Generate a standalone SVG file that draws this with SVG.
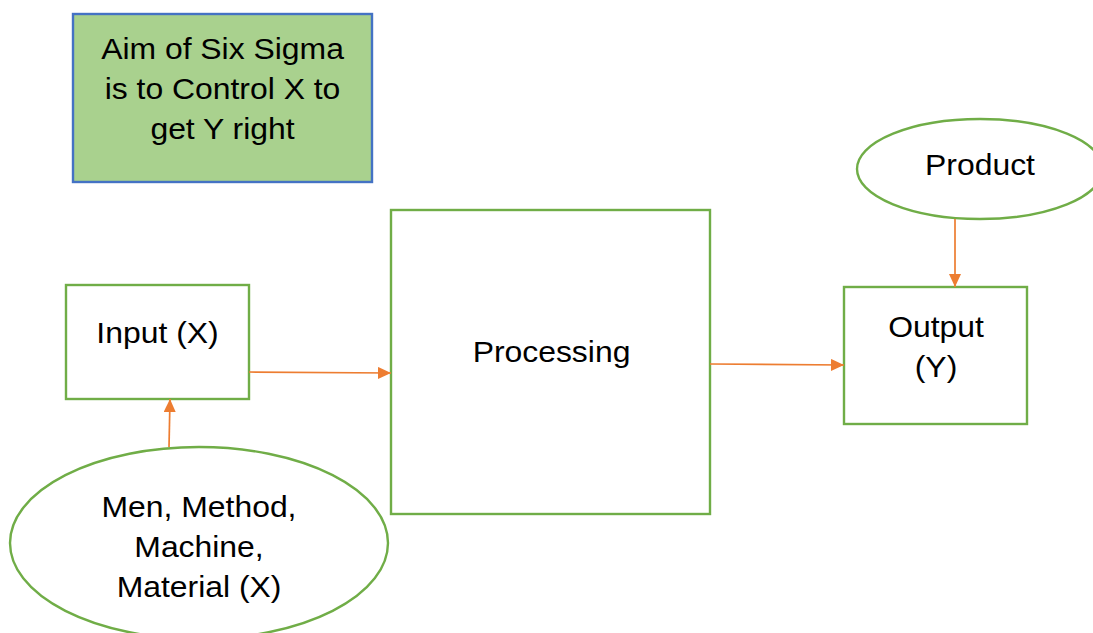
<svg xmlns="http://www.w3.org/2000/svg" width="1093" height="633" viewBox="0 0 1093 633">
  <defs>
    <marker id="arrow" viewBox="0 0 13 12" refX="13" refY="6" markerWidth="13" markerHeight="12" markerUnits="userSpaceOnUse" orient="auto">
      <path d="M0,0 L13,6 L0,12 Z" fill="#ed7d31"/>
    </marker>
    <style>
      .box { fill: #ffffff; stroke: #70ad47; stroke-width: 2.4; }
      .aim { fill: #a9d18e; stroke: #4472c4; stroke-width: 2.4; }
      .lbl { font-family: "Liberation Sans", Arial, sans-serif; font-size: 29px; fill: #000000; text-anchor: middle; }
      .conn { stroke: #ed7d31; stroke-width: 1.7; fill: none; marker-end: url(#arrow); }
    </style>
  </defs>
  <rect width="1093" height="633" fill="#ffffff"/>

  <g id="aim">
    <rect class="aim" x="73" y="14" width="299" height="168"/>
    <text class="lbl" transform="translate(222.5,59) scale(1.1,1)">Aim of Six Sigma</text>
    <text class="lbl" transform="translate(222.5,99) scale(1.1,1)">is to Control X to</text>
    <text class="lbl" transform="translate(222.5,139) scale(1.1,1)">get Y right</text>
  </g>

  <g id="input">
    <rect class="box" x="66" y="285" width="183" height="114"/>
    <text class="lbl" transform="translate(157.5,343) scale(1.1,1)">Input (X)</text>
  </g>

  <g id="processing">
    <rect class="box" x="391" y="210" width="319" height="304"/>
    <text class="lbl" transform="translate(551.5,362) scale(1.1,1)">Processing</text>
  </g>

  <g id="output">
    <rect class="box" x="844" y="287" width="183" height="137"/>
    <text class="lbl" transform="translate(936,337) scale(1.1,1)">Output</text>
    <text class="lbl" transform="translate(936,377) scale(1.1,1)">(Y)</text>
  </g>

  <g id="product">
    <ellipse class="box" cx="980" cy="169" rx="123" ry="50"/>
    <text class="lbl" transform="translate(980,175) scale(1.1,1)">Product</text>
  </g>

  <g id="factors">
    <ellipse class="box" cx="199" cy="543" rx="189" ry="96"/>
    <text class="lbl" transform="translate(199,517) scale(1.1,1)">Men, Method,</text>
    <text class="lbl" transform="translate(199,557) scale(1.1,1)">Machine,</text>
    <text class="lbl" transform="translate(199,597) scale(1.1,1)">Material (X)</text>
  </g>

  <g id="connectors">
    <line class="conn" x1="249" y1="372" x2="391" y2="373"/>
    <line class="conn" x1="710" y1="364" x2="844" y2="365"/>
    <line class="conn" x1="169" y1="447" x2="170" y2="399"/>
    <line class="conn" x1="955" y1="219" x2="955" y2="287"/>
  </g>
</svg>
